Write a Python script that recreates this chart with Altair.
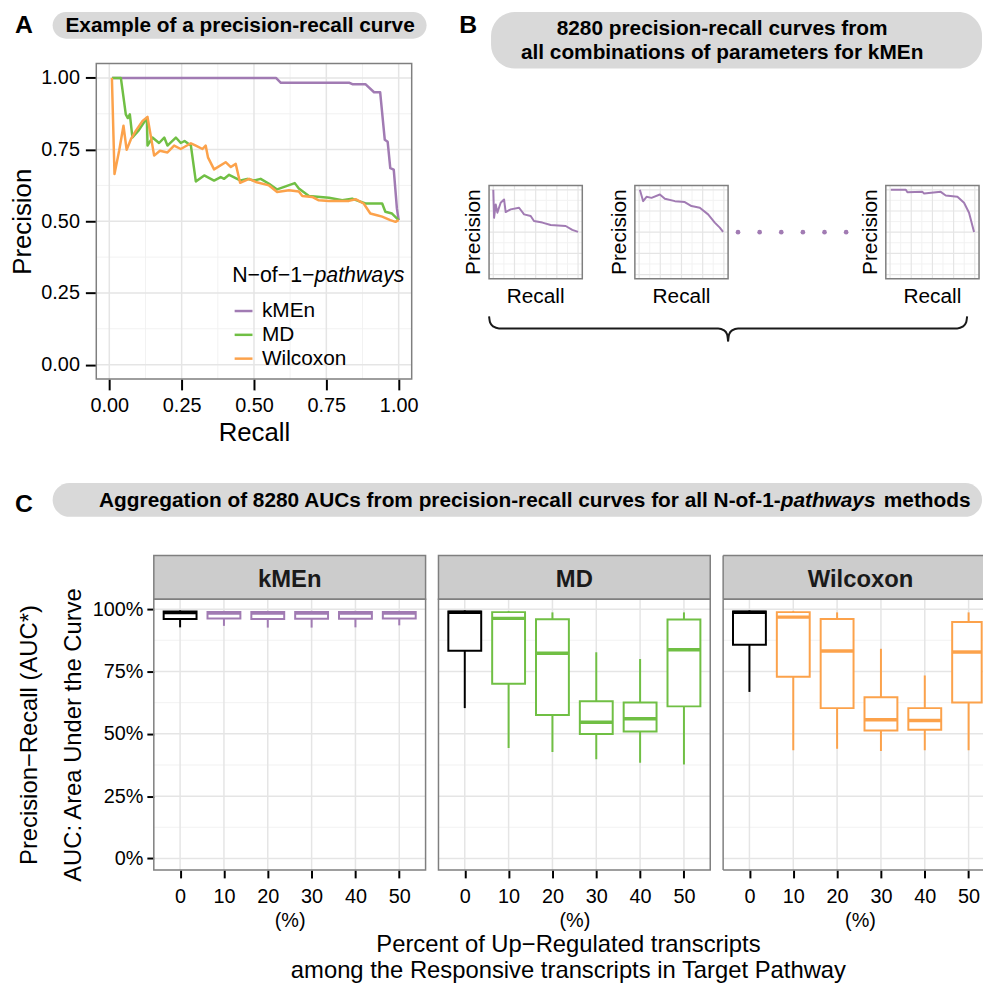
import altair as alt
import pandas as pd

FONT = "Liberation Sans"
C_KMEN = "#a17bb3"
C_MD = "#70bf44"
C_WIL = "#fca24b"
BORDER = "#7f7f7f"
GRID = "#e5e5e5"
MINOR = "#f2f2f2"
PILL = "#d9d9d9"

methods = ["kMEn", "MD", "Wilcoxon"]
method_colors = [C_KMEN, C_MD, C_WIL]
major_ticks = [0, 0.25, 0.5, 0.75, 1.0]
minor_ticks = [0.125, 0.375, 0.625, 0.875]

# ---------------- Panel A: example precision-recall curves ----------------
kmen_recall = [0.01, 0.576, 0.593, 0.83, 0.84, 0.885, 0.915, 0.936, 0.952, 0.962, 0.971, 0.983, 0.994, 1.0]
kmen_precision = [1.0, 1.0, 0.983, 0.983, 0.978, 0.978, 0.95, 0.95, 0.784, 0.777, 0.685, 0.68, 0.544, 0.504]

md_recall = [0.009, 0.040, 0.057, 0.064, 0.071, 0.080, 0.100, 0.120, 0.130, 0.132, 0.149, 0.172, 0.190,
             0.201, 0.230, 0.247, 0.260, 0.282, 0.299, 0.328, 0.362, 0.385, 0.397, 0.414, 0.454, 0.477,
             0.500, 0.523, 0.552, 0.580, 0.641, 0.655, 0.690, 0.759, 0.805, 0.839, 0.885, 0.943, 0.954,
             0.977, 1.0]
md_precision = [1.0, 1.0, 0.873, 0.860, 0.873, 0.792, 0.815, 0.845, 0.860, 0.764, 0.792, 0.773, 0.792,
                0.764, 0.792, 0.773, 0.780, 0.764, 0.639, 0.660, 0.642, 0.654, 0.648, 0.662, 0.642, 0.648,
                0.642, 0.648, 0.631, 0.611, 0.633, 0.614, 0.588, 0.582, 0.573, 0.579, 0.562, 0.562, 0.533,
                0.527, 0.504]

wil_recall = [0.009, 0.018, 0.034, 0.049, 0.060, 0.075, 0.092, 0.115, 0.132, 0.155, 0.175, 0.201, 0.224,
              0.247, 0.282, 0.299, 0.322, 0.333, 0.341, 0.362, 0.402, 0.420, 0.437, 0.452, 0.483, 0.506,
              0.552, 0.580, 0.621, 0.655, 0.667, 0.701, 0.724, 0.759, 0.828, 0.851, 0.879, 0.902, 0.925,
              0.943, 0.971, 0.989, 1.0]
wil_precision = [1.0, 0.665, 0.746, 0.833, 0.749, 0.787, 0.816, 0.850, 0.864, 0.729, 0.746, 0.740, 0.764,
                 0.752, 0.772, 0.764, 0.752, 0.764, 0.723, 0.681, 0.706, 0.689, 0.700, 0.634, 0.648, 0.637,
                 0.625, 0.602, 0.608, 0.604, 0.588, 0.585, 0.573, 0.571, 0.571, 0.577, 0.562, 0.527, 0.521,
                 0.516, 0.504, 0.498, 0.504]

# ---------------- Panel B: three example kMEn curves ----------------
mini1_recall = [0.0, 0.009, 0.029, 0.048, 0.087, 0.127, 0.146, 0.205, 0.304, 0.363, 0.441, 0.48, 0.579,
                0.677, 0.854, 0.932, 1.0]
mini1_precision = [1.0, 0.67, 0.827, 0.73, 0.847, 0.886, 0.737, 0.769, 0.788, 0.71, 0.69, 0.632, 0.613,
                   0.585, 0.573, 0.527, 0.503]
mini2_recall = [0.009, 0.048, 0.088, 0.146, 0.245, 0.304, 0.422, 0.539, 0.618, 0.716, 0.814, 0.893, 0.952, 0.991]
mini2_precision = [1.0, 0.866, 0.917, 0.905, 0.944, 0.894, 0.866, 0.855, 0.808, 0.788, 0.71, 0.613, 0.554, 0.503]
mini3_recall = [0.009, 0.186, 0.205, 0.382, 0.402, 0.598, 0.657, 0.795, 0.873, 0.932, 0.991]
mini3_precision = [1.0, 1.0, 0.97, 0.976, 0.956, 0.976, 0.933, 0.917, 0.847, 0.73, 0.503]
ellipsis_dots = [0, 1, 2, 3, 4, 5]

# brace outline (two halves), in the brace's own pixel units
brace_half = ["L"] * 8 + ["R"] * 8
brace_x = [0, 1, 4, 10, 231, 237, 240, 241, 241, 242, 245, 251, 472, 478, 481, 482]
brace_y = [38, 44, 48, 50, 50, 52, 56, 63, 63, 56, 52, 50, 50, 48, 44, 38]

# ---------------- Panel C: AUC box plots ----------------
pcts = [0, 10, 20, 30, 40, 50]
kmen_lo = [0.927, 0.933, 0.926, 0.926, 0.927, 0.935]
kmen_q1 = [0.960, 0.962, 0.960, 0.961, 0.961, 0.962]
kmen_med = [0.986, 0.984, 0.984, 0.984, 0.984, 0.984]
kmen_q3 = [0.991, 0.989, 0.989, 0.989, 0.989, 0.989]
kmen_hi = [0.995, 0.993, 0.993, 0.993, 0.993, 0.993]

md_lo = [0.603, 0.443, 0.427, 0.398, 0.384, 0.377]
md_q1 = [0.833, 0.701, 0.575, 0.499, 0.509, 0.610]
md_med = [0.987, 0.963, 0.823, 0.546, 0.560, 0.837]
md_q3 = [0.991, 0.988, 0.959, 0.631, 0.626, 0.958]
md_hi = [0.995, 0.992, 0.987, 0.827, 0.800, 0.987]

wil_lo = [0.668, 0.434, 0.440, 0.431, 0.434, 0.434]
wil_q1 = [0.857, 0.729, 0.603, 0.513, 0.516, 0.626]
wil_med = [0.987, 0.968, 0.832, 0.556, 0.553, 0.828]
wil_q3 = [0.991, 0.988, 0.960, 0.647, 0.603, 0.948]
wil_hi = [0.995, 0.992, 0.987, 0.841, 0.734, 0.987]

W = 984  # drawing width (page width minus margin)


# ---------------- helpers ----------------
def label(s, x, y, size, weight="normal", style="normal", align="center", color="black", angle=0):
    return alt.Chart(pd.DataFrame({"t": [s]})).mark_text(
        fontSize=size, fontWeight=weight, fontStyle=style, align=align, angle=angle,
        baseline="middle", color=color).encode(x=alt.value(x), y=alt.value(y), text="t:N")


def pill(x1, x2, y1, y2, r):
    return alt.Chart(pd.DataFrame({"v": [0]})).mark_rect(cornerRadius=r, color=PILL).encode(
        x=alt.value(x1), x2=alt.value(x2), y=alt.value(y1), y2=alt.value(y2))


def vrules(vals, sx, sy, yext, colr, w):
    g = pd.DataFrame({"v": vals, "lo": [yext[0]] * len(vals), "hi": [yext[1]] * len(vals)})
    return alt.Chart(g).mark_rule(color=colr, strokeWidth=w).encode(
        x=alt.X("v:Q", scale=sx, axis=None), y=alt.Y("lo:Q", scale=sy, axis=None), y2="hi:Q")


def hrules(vals, sx, sy, xext, colr, w):
    g = pd.DataFrame({"v": vals, "lo": [xext[0]] * len(vals), "hi": [xext[1]] * len(vals)})
    return alt.Chart(g).mark_rule(color=colr, strokeWidth=w).encode(
        y=alt.Y("v:Q", scale=sy, axis=None), x=alt.X("lo:Q", scale=sx, axis=None), x2="hi:Q")


def frame_rect(sx, sy, xext, yext, width=1.5):
    fr = pd.DataFrame({"x0": [xext[0]], "x1": [xext[1]], "y0": [yext[0]], "y1": [yext[1]]})
    return alt.Chart(fr).mark_rect(fillOpacity=0, stroke=BORDER, strokeWidth=width).encode(
        x=alt.X("x0:Q", scale=sx, axis=None), x2="x1:Q", y=alt.Y("y0:Q", scale=sy, axis=None), y2="y1:Q")


def frame_open(sx, sy, xext, yext, width=1.5):
    # left, top and bottom sides only: the panel continues past the figure's right edge
    fr = pd.DataFrame({"x0": [xext[0], xext[0], xext[0]], "x1": [xext[0], xext[1], xext[1]],
                       "y0": [yext[0], yext[1], yext[0]], "y1": [yext[1], yext[1], yext[0]]})
    return alt.Chart(fr).mark_rule(color=BORDER, strokeWidth=width).encode(
        x=alt.X("x0:Q", scale=sx, axis=None), x2="x1:Q", y=alt.Y("y0:Q", scale=sy, axis=None), y2="y1:Q")


# ---------------- Row 1: headers A and B ----------------
row1 = alt.layer(
    pill(45, 422, 0, 27, 13.5),
    label("A", 7, 13.5, 25, "bold", align="left"),
    label("Example of a precision-recall curve", 234, 13.7, 21, "bold"),
    pill(487, 982, 0, 57, 24),
    label("B", 455, 13, 25, "bold", align="left"),
    label("8280 precision-recall curves from", 720, 17, 21, "bold"),
    label("all combinations of parameters for kMEn", 720, 41.5, 21, "bold"),
).properties(width=W, height=52)

# ---------------- Row 2: panel A (with axes) and panel B (mini plots) ----------------
rows = []
for m, rr, pp in [("kMEn", kmen_recall, kmen_precision), ("MD", md_recall, md_precision),
                  ("Wilcoxon", wil_recall, wil_precision)]:
    for i, (r, p) in enumerate(zip(rr, pp)):
        rows.append({"method": m, "i": i, "recall": r, "precision": p})
dfA = pd.DataFrame(rows)

AX0, AX1, AH = 89, 407, 318
xextA, yextA = [-0.045, 1.045], [-0.05, 1.05]
sAx = alt.Scale(domain=xextA, range=[AX0, AX1], nice=False, zero=False)
sAy = alt.Scale(domain=yextA, range=[AH, 0], nice=False, zero=False)

axA_x = alt.Axis(values=major_ticks, format=".2f", title="Recall", titleFontSize=26, labelFontSize=20,
                 tickSize=11, tickWidth=2, labelPadding=6, titlePadding=4, domain=False, grid=False,
                 orient="bottom")
axA_y = alt.Axis(values=major_ticks, format=".2f", title="Precision", titleFontSize=26, labelFontSize=20,
                 tickSize=11, tickWidth=2, labelPadding=6, titlePadding=5, domain=False, grid=False,
                 orient="left", offset=-AX0)

linesA = alt.Chart(dfA).mark_line(strokeWidth=2.5, strokeJoin="round").encode(
    x=alt.X("recall:Q", scale=sAx, axis=axA_x),
    y=alt.Y("precision:Q", scale=sAy, axis=axA_y),
    color=alt.Color("method:N", scale=alt.Scale(domain=methods, range=method_colors),
                    legend=alt.Legend(title=None, orient="none", legendX=AX0 + 138, legendY=239,
                                      labelFontSize=21, labelColor="black", symbolType="stroke",
                                      symbolStrokeWidth=2.5, symbolSize=324, rowPadding=2,
                                      labelOffset=8, labelLimit=300)),
    order=alt.Order("i:Q"),
)

a_layers = [
    vrules(minor_ticks, sAx, sAy, yextA, MINOR, 1), hrules(minor_ticks, sAx, sAy, xextA, MINOR, 1),
    vrules(major_ticks, sAx, sAy, yextA, GRID, 1.5), hrules(major_ticks, sAx, sAy, xextA, GRID, 1.5),
    linesA,
    frame_rect(sAx, sAy, xextA, yextA),
    label("N\u2212of\u22121\u2212", AX0 + 220, 214.5, 21.5, align="right"),
    label("pathways", AX0 + 220, 214.5, 21.5, style="italic", align="left"),
]

B0 = 485
B_TOP, B_BOT = 123, 217
ext_m = [-0.05, 1.05]


def mini_layers(ox, rr, pp):
    sx = alt.Scale(domain=ext_m, range=[ox, ox + 94], nice=False, zero=False)
    sy = alt.Scale(domain=ext_m, range=[B_BOT, B_TOP], nice=False, zero=False)
    d = pd.DataFrame({"recall": rr, "precision": pp, "i": list(range(len(rr)))})
    line = alt.Chart(d).mark_line(strokeWidth=2, color=C_KMEN, strokeJoin="round").encode(
        x=alt.X("recall:Q", scale=sx, axis=None), y=alt.Y("precision:Q", scale=sy, axis=None),
        order=alt.Order("i:Q"))
    return [
        vrules(minor_ticks, sx, sy, ext_m, MINOR, 1), hrules(minor_ticks, sx, sy, ext_m, MINOR, 1),
        vrules(major_ticks, sx, sy, ext_m, GRID, 1.2), hrules(major_ticks, sx, sy, ext_m, GRID, 1.2),
        line, frame_rect(sx, sy, ext_m, ext_m),
        label("Recall", ox + 47, 235.7, 21),
        label("Precision", ox - 15.3, (B_TOP + B_BOT) / 2, 21, angle=270),
    ]


dots = alt.Chart(pd.DataFrame({"k": ellipsis_dots, "level": [0.5] * len(ellipsis_dots)})).mark_circle(
    size=22, color=C_KMEN, opacity=1).encode(
    x=alt.X("k:Q", scale=alt.Scale(domain=[-0.459, 6.835], range=[B0 + 241, B0 + 400], nice=False,
                                   zero=False), axis=None),
    y=alt.Y("level:Q", scale=alt.Scale(domain=ext_m, range=[B_BOT, B_TOP], nice=False, zero=False),
            axis=None),
)

brace = alt.Chart(pd.DataFrame({"half": brace_half, "bx": brace_x, "by": brace_y})).mark_line(
    color="#1a1a1a", strokeWidth=2, interpolate="monotone").encode(
    x=alt.X("bx:Q", scale=alt.Scale(domain=[0, 494], range=[B0, B0 + 494], nice=False, zero=False),
            axis=None),
    y=alt.Y("by:Q", scale=alt.Scale(domain=[0, 70], range=[217, 287], nice=False, zero=False), axis=None),
    detail="half:N",
)

b_layers = (mini_layers(B0, mini1_recall, mini1_precision) + mini_layers(B0 + 147, mini2_recall, mini2_precision)
            + mini_layers(B0 + 400, mini3_recall, mini3_precision) + [dots, brace])

row2 = alt.layer(*(a_layers + b_layers)).resolve_scale(x="independent", y="independent").properties(
    width=W, height=AH)

# ---------------- Row 3: header C ----------------
row3 = alt.layer(
    pill(45, 982, 105, 139, 17),
    label("C", 7, 126.5, 25, "bold", align="left"),
    label("Aggregation of 8280 AUCs from precision-recall curves for all N-of-1-", 779, 123, 21, "bold",
          align="right"),
    label("pathways", 779, 123, 21, "bold", style="italic", align="left"),
    label("methods", 883, 123, 21, "bold", align="left"),
).properties(width=W, height=178)

# ---------------- Rows 4-5: strips and box panels ----------------
PXU = 274 / 6.2
panel_x0 = {"kMEn": 147, "MD": 434, "Wilcoxon": 721}
panel_w = {"kMEn": 274, "MD": 274, "Wilcoxon": 262}


def strip_layers(name, text_dx):
    x0 = panel_x0[name]
    x1 = x0 + panel_w[name]
    out = []
    if name == "Wilcoxon":
        out.append(alt.Chart(pd.DataFrame({"v": [0]})).mark_rect(color="#cccccc").encode(
            x=alt.value(x0), x2=alt.value(x1), y=alt.value(0), y2=alt.value(44)))
        sides = pd.DataFrame({"a": [x0, x0, x0], "b": [x0, x1, x1], "c": [0, 0, 44], "d": [44, 0, 44]})
        out.append(alt.Chart(sides).mark_rule(color=BORDER, strokeWidth=1.5).encode(
            x=alt.X("a:Q", scale=alt.Scale(domain=[0, W], range=[0, W]), axis=None), x2="b:Q",
            y=alt.Y("c:Q", scale=alt.Scale(domain=[0, 44], range=[0, 44]), axis=None), y2="d:Q"))
    else:
        out.append(alt.Chart(pd.DataFrame({"v": [0]})).mark_rect(
            color="#cccccc", stroke=BORDER, strokeWidth=1.5).encode(
            x=alt.value(x0), x2=alt.value(x1), y=alt.value(0), y2=alt.value(44)))
    out.append(alt.Chart(pd.DataFrame({"m": [name]})).mark_text(
        fontSize=24, fontWeight="bold", color="#1a1a1a", baseline="middle").encode(
        x=alt.value(x0 + text_dx), y=alt.value(24.4), text="m:N"))
    return out


row4 = alt.layer(*(strip_layers("kMEn", 137) + strip_layers("MD", 137) + strip_layers("Wilcoxon", 138.5))
                 ).properties(width=W, height=44)

CH = 273
yextC = [-0.046, 1.04]
sCy = alt.Scale(domain=yextC, range=[CH, 0], nice=False, zero=False)
cscale = alt.Scale(domain=["ref", "kMEn", "MD", "Wilcoxon"], range=["black", C_KMEN, C_MD, C_WIL])


def box_layers(method, lo, q1, med, q3, hi, show_y):
    x0 = panel_x0[method]
    w = panel_w[method]
    xmax = -0.6 + w / PXU
    xext = [-0.6, xmax]
    xs = alt.Scale(domain=[-0.6, xmax], range=[x0, x0 + w], nice=False, zero=False)
    d = pd.DataFrame({"idx": list(range(len(pcts))), "pct": pcts, "lo": lo, "q1": q1, "med": med,
                      "q3": q3, "hi": hi, "grp": ["ref"] + [method] * (len(pcts) - 1)})
    x_axis = alt.Axis(values=[0, 1, 2, 3, 4, 5], labelExpr="'' + (datum.value * 10)", title="(%)",
                      titleFontSize=20, labelFontSize=20, tickSize=8, tickWidth=2, labelPadding=9,
                      titlePadding=4, domain=False, grid=False, orient="bottom",
                      **({"titleX": 859} if method == "Wilcoxon" else {}))
    base = alt.Chart(d).transform_calculate(
        xl="datum.idx - 0.375", xr="min(datum.idx + 0.375, %.4f)" % (xmax - 0.03))
    col = alt.Color("grp:N", scale=cscale, legend=None)
    whisk_hi = base.mark_rule(strokeWidth=2).encode(
        x=alt.X("idx:Q", scale=xs, axis=x_axis), y=alt.Y("q3:Q", scale=sCy, axis=None),
        y2="hi:Q", color=col)
    whisk_lo = base.mark_rule(strokeWidth=2).encode(
        x=alt.X("idx:Q", scale=xs, axis=None), y=alt.Y("lo:Q", scale=sCy, axis=None), y2="q1:Q", color=col)
    boxes = base.mark_rect(fill="white", strokeWidth=2).encode(
        x=alt.X("xl:Q", scale=xs, axis=None), x2="xr:Q", y=alt.Y("q1:Q", scale=sCy, axis=None), y2="q3:Q",
        stroke=alt.Stroke("grp:N", scale=cscale, legend=None))
    medians = base.mark_rule(strokeWidth=3.5).encode(
        x=alt.X("xl:Q", scale=xs, axis=None), x2="xr:Q", y=alt.Y("med:Q", scale=sCy, axis=None), color=col)
    layers = [
        hrules(minor_ticks, xs, sCy, xext, MINOR, 1),
        hrules(major_ticks, xs, sCy, xext, GRID, 1.5),
        vrules([0, 1, 2, 3, 4, 5], xs, sCy, yextC, GRID, 1.5),
    ]
    if show_y:
        y_axis = alt.Axis(values=major_ticks, format=".0%", labelFontSize=20, tickSize=7, tickWidth=2,
                          labelPadding=4, domain=False, grid=False, orient="left", offset=-x0,
                          title=["Precision\u2212Recall (AUC*)", "AUC: Area Under the Curve"],
                          titleFontSize=24, titleLineHeight=44, titlePadding=7)
        tick_df = pd.DataFrame({"v": major_ticks})
        layers.append(alt.Chart(tick_df).mark_rule(opacity=0).encode(
            y=alt.Y("v:Q", scale=sCy, axis=y_axis)))
    layers += [whisk_hi, whisk_lo, boxes, medians]
    if method == "Wilcoxon":
        layers.append(frame_open(xs, sCy, xext, yextC))
    else:
        layers.append(frame_rect(xs, sCy, xext, yextC))
    return layers


row5 = alt.layer(*(box_layers("kMEn", kmen_lo, kmen_q1, kmen_med, kmen_q3, kmen_hi, True)
                   + box_layers("MD", md_lo, md_q1, md_med, md_q3, md_hi, False)
                   + box_layers("Wilcoxon", wil_lo, wil_q1, wil_med, wil_q3, wil_hi, False))
                 ).resolve_scale(x="independent", y="independent").properties(width=W, height=CH)

row6 = alt.layer(
    label("Percent of Up\u2212Regulated transcripts", 565, 75.5, 24),
    label("among the Responsive transcripts in Target Pathway", 565, 102, 24),
).properties(width=W, height=112)

chart = alt.vconcat(row1, row2, row3, row4, row5, row6, spacing=0, bounds="flush").resolve_scale(
    color="independent", stroke="independent").properties(
    padding=0
).configure(font=FONT).configure_view(strokeWidth=0).configure_axis(
    labelColor="black", titleColor="black", tickColor="black", titleFontWeight="normal",
    labelFont=FONT, titleFont=FONT, labelFlush=False, labelOverlap=False
).configure_legend(labelFont=FONT)

chart.save("out.html", embed_options={"renderer": "svg", "actions": False})
